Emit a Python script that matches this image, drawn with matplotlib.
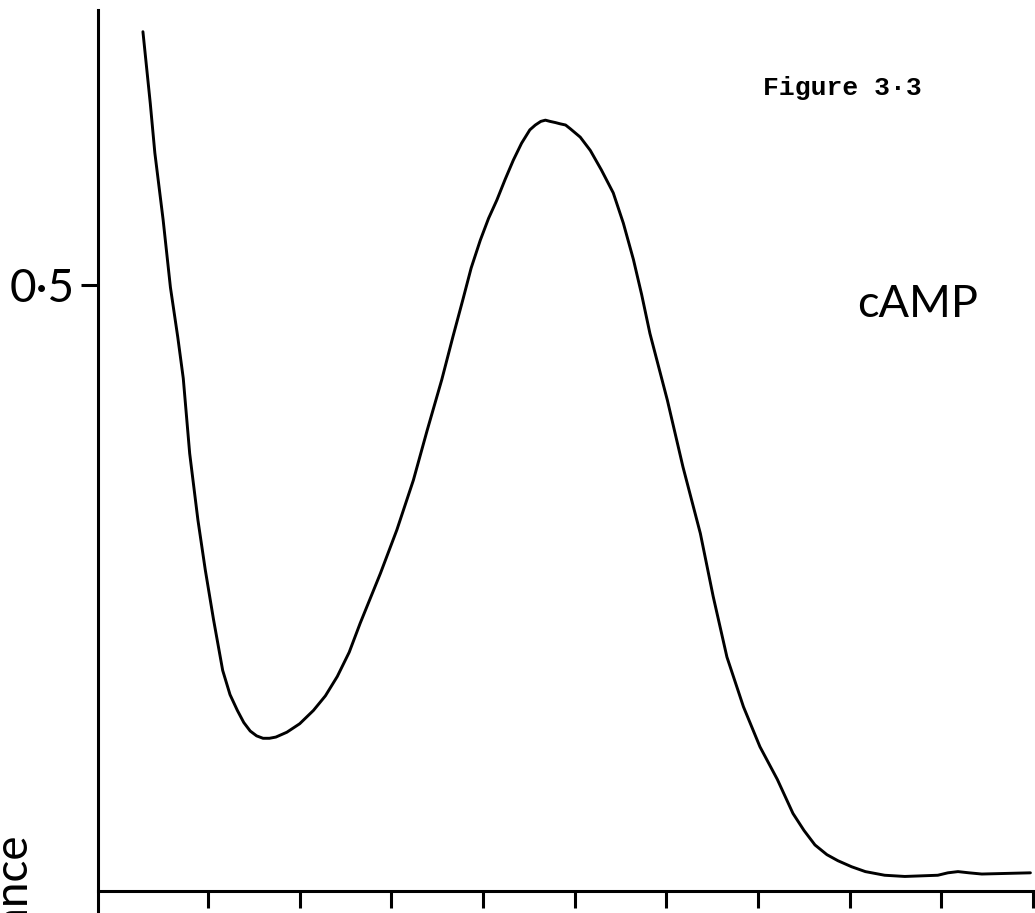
import matplotlib
matplotlib.use("Agg")
import matplotlib.pyplot as plt

# elution profile (fraction number, absorbance)
fraction = [0.29, 0.37, 0.42, 0.51, 0.59, 0.67, 0.73, 0.80, 0.89, 0.97,
            1.06, 1.16, 1.24, 1.32, 1.39, 1.46, 1.53, 1.60, 1.67, 1.74,
            1.86, 2.00, 2.15, 2.28, 2.41, 2.54, 2.66, 2.88, 3.06, 3.24,
            3.39, 3.55, 3.67, 3.78, 3.87, 3.97, 4.06, 4.15, 4.24, 4.33,
            4.42, 4.51, 4.57, 4.63, 4.68, 4.73, 4.79, 4.84, 4.90, 4.95,
            5.06, 5.17, 5.29, 5.42, 5.53, 5.64, 5.73, 5.82, 6.01, 6.18,
            6.37, 6.51, 6.66, 6.84, 7.02, 7.21, 7.38, 7.50, 7.62, 7.75,
            7.87, 8.02, 8.17, 8.38, 8.60, 8.96, 9.07, 9.18, 9.30, 9.44,
            9.97]
absorbance = [0.709, 0.650, 0.609, 0.554, 0.498, 0.457, 0.423, 0.361, 0.306, 0.265,
              0.224, 0.182, 0.162, 0.149, 0.139, 0.132, 0.128, 0.126, 0.126, 0.127,
              0.131, 0.138, 0.149, 0.161, 0.177, 0.197, 0.221, 0.262, 0.298, 0.339,
              0.380, 0.422, 0.457, 0.488, 0.514, 0.537, 0.555, 0.570, 0.587, 0.603,
              0.617, 0.628, 0.632, 0.635, 0.636, 0.635, 0.634, 0.633, 0.632, 0.629,
              0.622, 0.611, 0.595, 0.576, 0.551, 0.521, 0.492, 0.460, 0.405, 0.350,
              0.295, 0.243, 0.193, 0.152, 0.119, 0.092, 0.064, 0.050, 0.038, 0.030,
              0.025, 0.020, 0.016, 0.013, 0.012, 0.013, 0.015, 0.016, 0.015, 0.014,
              0.015]

x_ticks = [1, 2, 3, 4, 5, 6, 7, 8, 9, 10]
y_ticks = [0.5]
y_tick_labels = ["0\u00b75"]

fig = plt.figure(figsize=(10.35, 9.13), dpi=100)
ax = fig.add_axes([98 / 1035, 0, 937 / 1035, 903 / 913])

ax.plot(fraction, absorbance, color="black", lw=2.1, solid_capstyle="round",
        solid_joinstyle="round")

ax.set_xlim(-0.2, 10.02)
ax.set_ylim(-22 / 1212, 881 / 1212)

ax.spines["top"].set_visible(False)
ax.spines["right"].set_visible(False)
ax.spines["bottom"].set_position(("data", 0))
for s in ("left", "bottom"):
    ax.spines[s].set_linewidth(2.2)

ax.set_xticks(x_ticks)
ax.set_xticklabels([])
ax.set_yticks(y_ticks)
ax.set_yticklabels(y_tick_labels, fontfamily="Lato", fontsize=33, color="black")
ax.tick_params(axis="both", direction="out", length=12.5, width=2.2, pad=4)

fig.text(857 / 1035, (913 - 317) / 913, "cAMP", fontfamily="Lato",
         fontsize=32.5, color="black", va="baseline", ha="left")
fig.text(763 / 1035, (913 - 95) / 913, "Figure 3\u00b73", fontfamily="Liberation Mono",
         fontweight="bold", fontsize=19, color="black", va="baseline", ha="left")
fig.text(36 / 1035, (913 - 835) / 913, "Absorbance", fontfamily="Lato",
         fontsize=33, color="black", rotation=90, ha="right", va="top")

fig.savefig("out.png", dpi=100)
